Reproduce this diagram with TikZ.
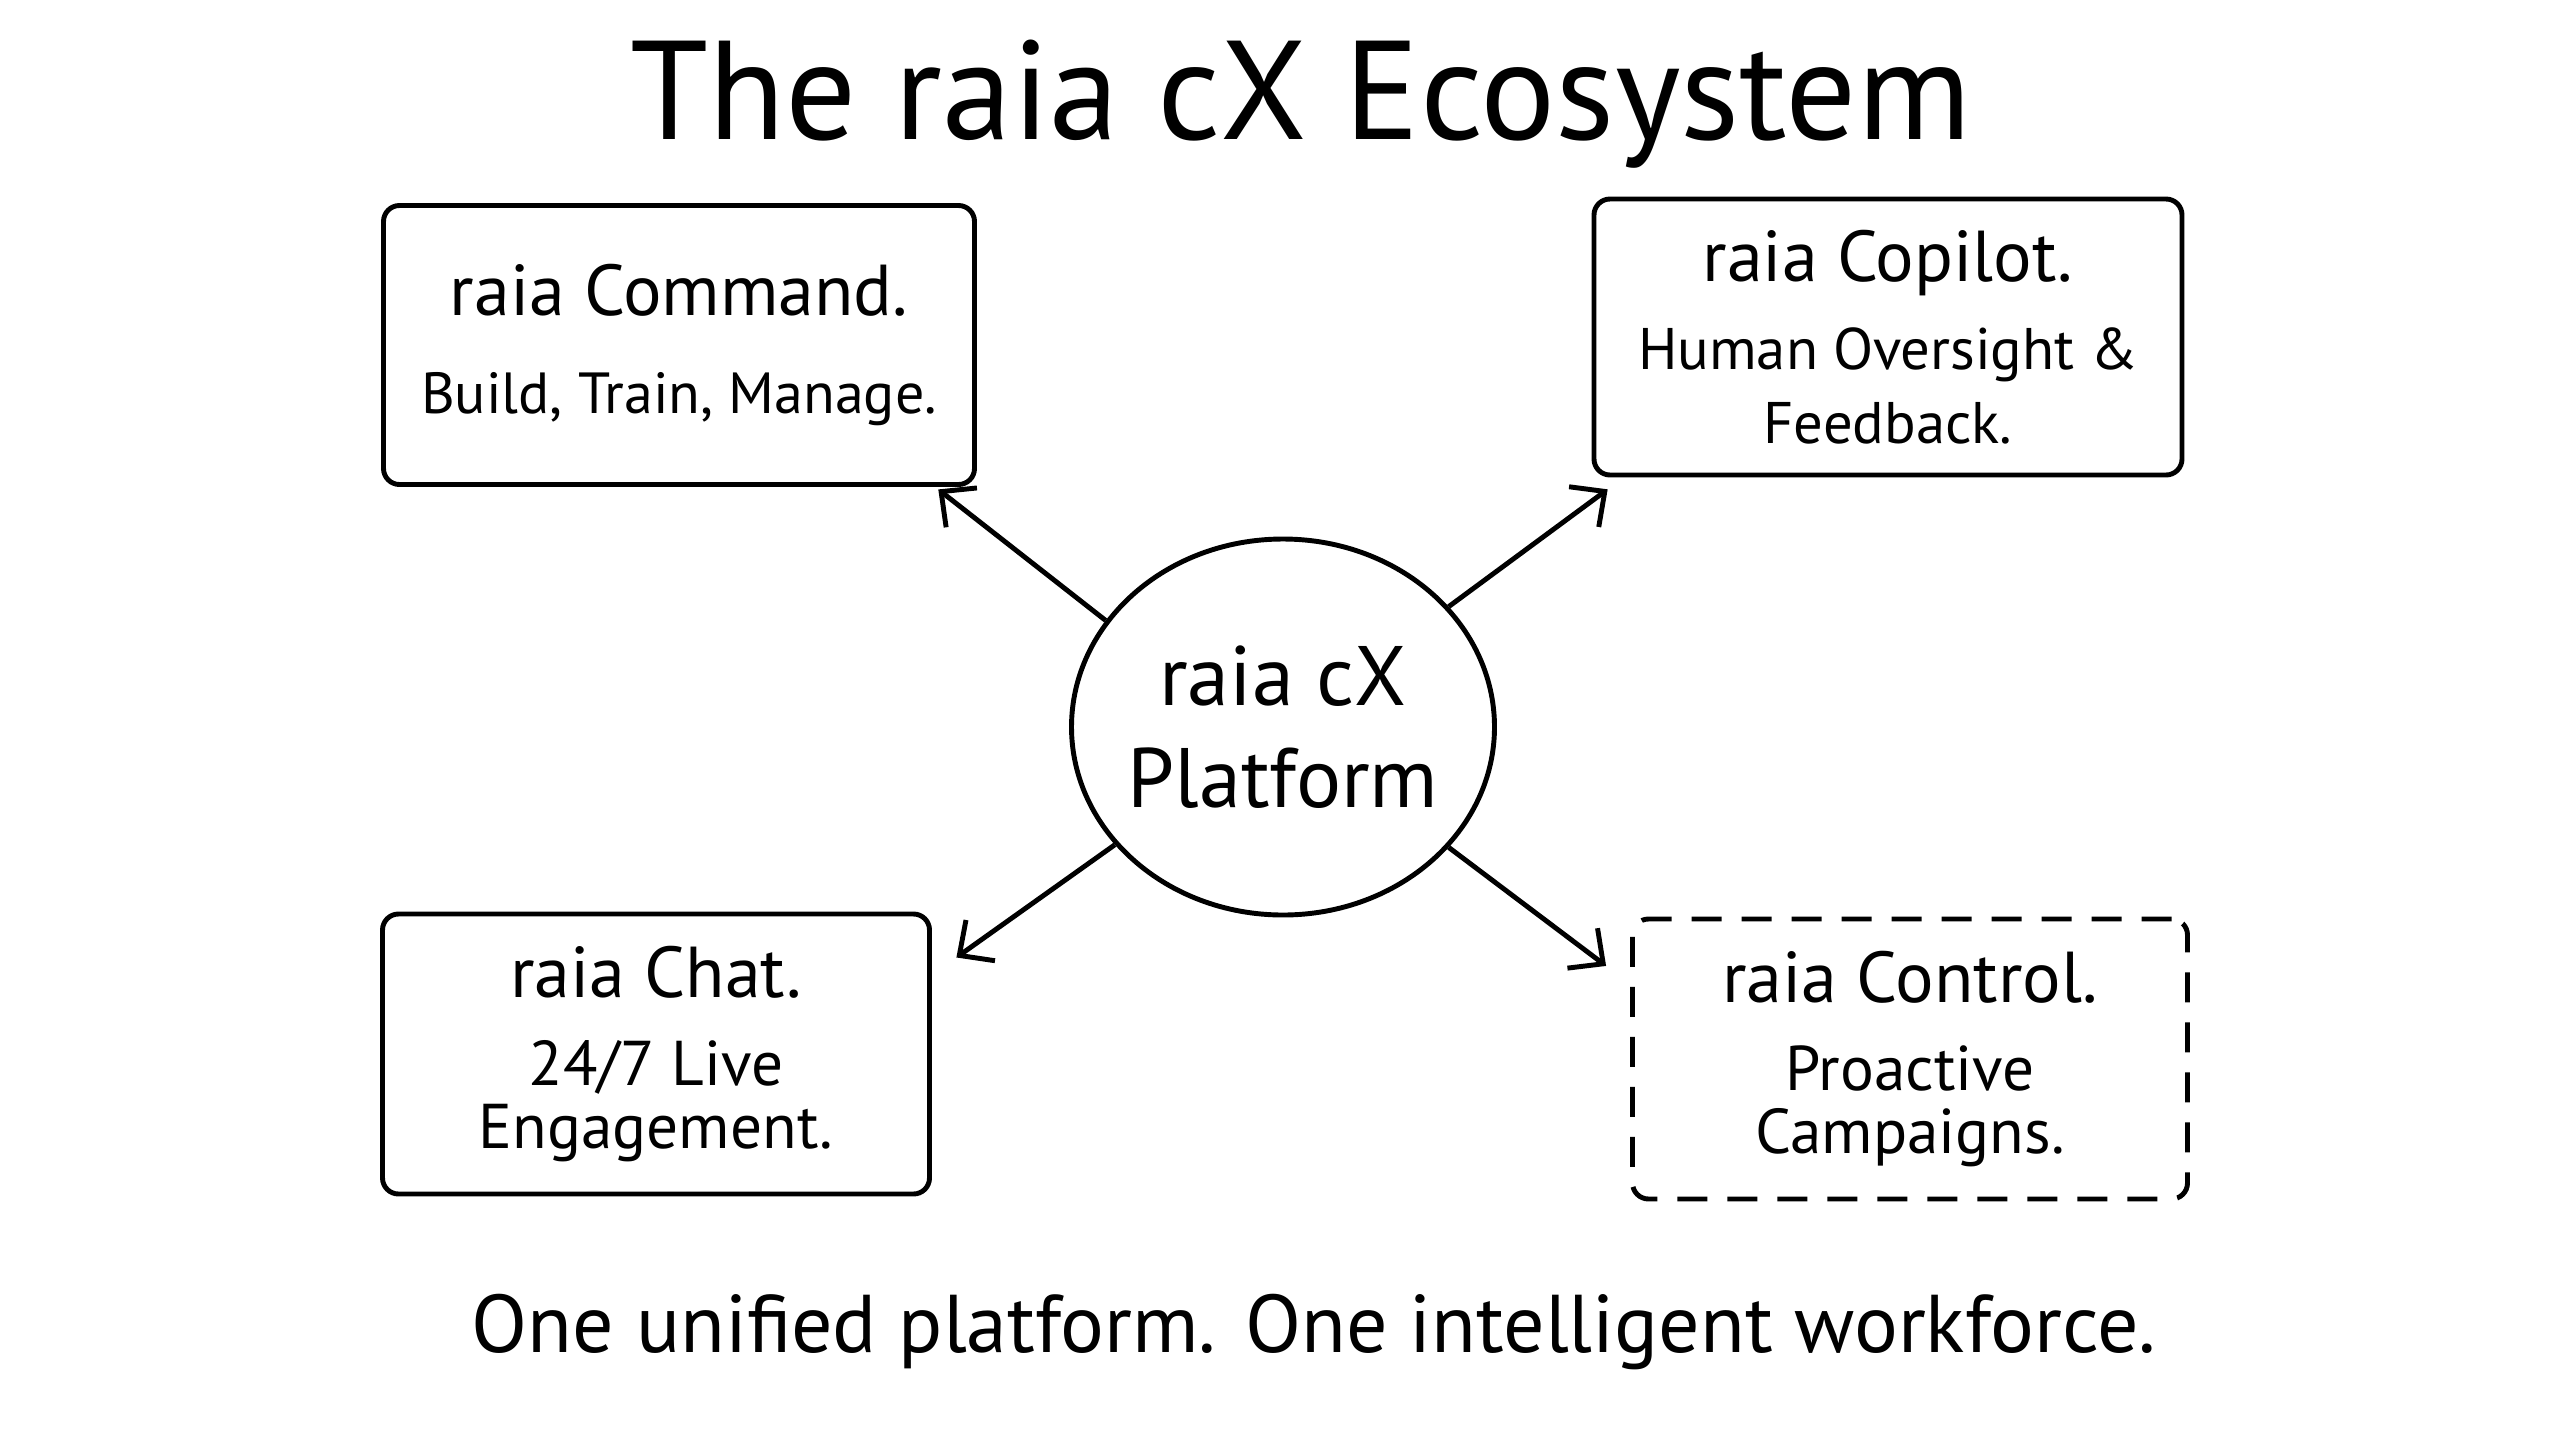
\documentclass[tikz,border=0pt]{standalone}
\usepackage{fontspec}
\setmainfont{PT Sans}
\usetikzlibrary{shapes.geometric,arrows.meta}

\begin{document}
\begin{tikzpicture}[line width=1.4pt,
  card/.style={draw, rounded corners=0.16cm, align=center, inner sep=0pt, font=\fontsize{20.5}{18}\selectfont},
  hubshape/.style={draw, ellipse, align=center, inner xsep=-9pt, inner ysep=0pt, minimum width=4.23cm, minimum height=3.76cm, font=\fontsize{24}{29}\selectfont},
  arr/.style={-{Straight Barb[length=0.26cm,width=0.5cm]}}]
\fill[white] (0,0) rectangle (25.6,-14.4);
\useasboundingbox (0,0) rectangle (25.6,-14.4);
\node[anchor=base, font=\fontsize{40}{44}\selectfont] (title) at (13.01,-1.39) {The raia cX Ecosystem};
\node[hubshape] (hub) at (12.83,-7.27) {raia cX\\Platform};
\node[card, minimum width=5.91cm, minimum height=2.79cm] (cmd) at (6.79,-3.45)
  {raia Command.\\[10pt]{\fontsize{16.5}{18}\selectfont Build, Train, Manage.}};
\node[card, minimum width=5.88cm, minimum height=2.76cm] (copilot) at (18.88,-3.37)
  {raia Copilot.\\[7pt]{\fontsize{16.7}{18}\selectfont Human Oversight \&}\\[3pt]{\fontsize{16.7}{18}\selectfont Feedback.}};
\node[card, minimum width=5.47cm, minimum height=2.80cm] (chat) at (6.56,-10.54)
  {raia Chat.\\[7pt]{\fontsize{18}{18}\selectfont 24/7 Live}\\{\fontsize{18}{18}\selectfont Engagement.}};
\node[card, dashed, dash pattern=on 0.3cm off 0.2cm, minimum width=5.55cm, minimum height=2.80cm] (control) at (19.10,-10.59)
  {raia Control.\\[7pt]{\fontsize{18}{18}\selectfont Proactive}\\{\fontsize{18}{18}\selectfont Campaigns.}};
\draw[arr, shorten >=0.04cm] (hub.149) -- (cmd.-29);
\draw[arr, shorten >=0.2cm] (hub.36) -- (copilot.208);
\draw[arr, shorten >=0.3cm] (hub.215) -- (chat.16);
\draw[arr, shorten >=0.3cm] (hub.-36) -- (control.165);
\node[anchor=base, font=\fontsize{23.3}{26}\selectfont] (motto) at (13.14,-13.52) {One unified platform. One intelligent workforce.};
\end{tikzpicture}
\end{document}
